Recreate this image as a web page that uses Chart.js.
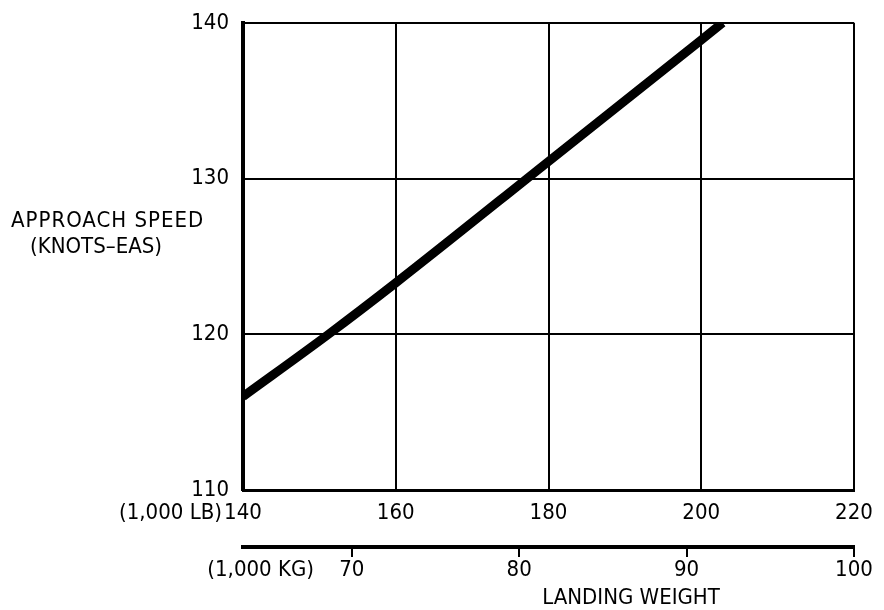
<!DOCTYPE html>
<html>
<head>
<meta charset="utf-8">
<script src="https://cdn.jsdelivr.net/npm/chart.js@4/dist/chart.umd.min.js"></script>
<style>
  html, body { margin: 0; padding: 0; background: #fff; }
  #wrap { width: 884px; height: 610px; }
</style>
</head>
<body>
<div id="wrap"><canvas id="approach-chart" width="884" height="610"></canvas></div>
<script>
// landing weight (1,000 lb) vs approach speed (knots EAS)
const weightLb = [140, 151.2, 160, 180, 200, 202.8]
const speedKts = [116.0, 120, 123.3, 131.1, 138.9, 140]

const lbTicks = [140, 160, 180, 200, 220]
const kgTicks = [70, 80, 90, 100]
const speedTicks = [110, 120, 130, 140]

const FONT = "'Liberation Sans Narrow', 'DejaVu Sans Condensed', 'Liberation Sans', sans-serif"

const sideLabels = {
  id: 'sideLabels',
  afterDraw(chart) {
    const c = chart.ctx
    c.save()
    c.fillStyle = '#000'
    c.textBaseline = 'middle'
    c.font = '22px ' + FONT
    c.textAlign = 'left'
    c.letterSpacing = '1px'
    c.fillText('APPROACH SPEED', 11, 221)
    c.letterSpacing = '0px'
    c.fillText('(KNOTS–EAS)', 30, 247)
    c.textAlign = 'right'
    c.fillText('(1,000 LB)', 222, 513)
    c.fillText('(1,000 KG)', 314, 570)
    c.textAlign = 'center'
    c.fillText('LANDING WEIGHT', 631, 598)
    c.restore()
  }
}

const ctx = document.getElementById('approach-chart').getContext('2d')

new Chart(ctx, {
  type: 'scatter',
  data: {
    datasets: [{
      data: weightLb.map((w, i) => ({ x: w, y: speedKts[i] })),
      showLine: true,
      borderColor: '#000',
      borderWidth: 9,
      pointRadius: 0,
      cubicInterpolationMode: 'monotone'
    }]
  },
  options: {
    responsive: false,
    animation: false,
    layout: { padding: { top: 12, right: 30, left: 0, bottom: 0 } },
    plugins: {
      legend: { display: false },
      tooltip: { enabled: false }
    },
    scales: {
      x: {
        type: 'linear',
        position: 'bottom',
        min: 140,
        max: 220,
        afterBuildTicks: s => { s.ticks = lbTicks.map(v => ({ value: v })) },
        afterFit: s => { s.height = 57 },
        grid: { color: '#000', lineWidth: 2, drawTicks: false },
        border: { color: '#000', width: 3 },
        ticks: { color: '#000', font: { family: FONT, size: 22 }, padding: 10, maxRotation: 0 }
      },
      x2: {
        type: 'linear',
        position: 'bottom',
        min: 63.5,
        max: 100,
        afterBuildTicks: s => { s.ticks = kgTicks.map(v => ({ value: v })) },
        afterFit: s => { s.height = 63 },
        grid: { color: '#000', lineWidth: 2, drawOnChartArea: false, drawTicks: true, tickLength: 10 },
        border: { color: '#000', width: 4 },
        ticks: { color: '#000', font: { family: FONT, size: 22 }, padding: 0, maxRotation: 0 }
      },
      y: {
        type: 'linear',
        min: 110,
        max: 140,
        afterBuildTicks: s => { s.ticks = speedTicks.map(v => ({ value: v })) },
        afterFit: s => { s.width = 243 },
        grid: { color: '#000', lineWidth: 2, drawTicks: false },
        border: { color: '#000', width: 4 },
        ticks: { color: '#000', font: { family: FONT, size: 22, lineHeight: 0.8 }, padding: 14 }
      }
    }
  },
  plugins: [sideLabels]
})
</script>
</body>
</html>
